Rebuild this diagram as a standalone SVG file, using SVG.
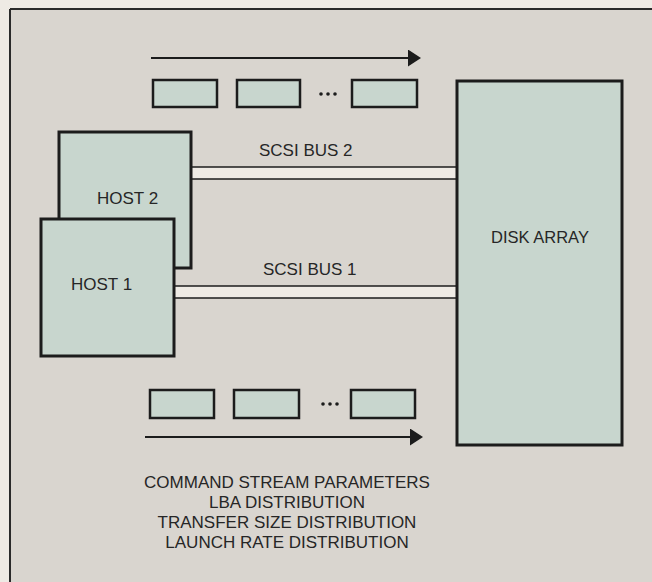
<svg xmlns="http://www.w3.org/2000/svg" width="652" height="582" viewBox="0 0 652 582">
<defs>
<style>
.box{fill:#c8d6ce;stroke:#1c1c1c;stroke-width:3}
.pkt{fill:#c8d6ce;stroke:#1c1c1c;stroke-width:2.5}
.lbl{font-family:"Liberation Sans",Arial,sans-serif;font-size:17px;fill:#262626}
.busfill{fill:#efebe5;stroke:none}
.busline{stroke:#1c1c1c;stroke-width:1.6;fill:none}
.arr{stroke:#1c1c1c;stroke-width:2;fill:none}
.dot{fill:#1c1c1c}
</style>
<marker id="ah" viewBox="0 0 13 17" refX="0" refY="8.5" markerWidth="13" markerHeight="17" markerUnits="userSpaceOnUse" orient="auto">
<polygon points="0,0 13,8.5 0,17" fill="#1c1c1c"/>
</marker>
</defs>
<rect x="0" y="0" width="652" height="582" fill="#eeeae4"/>
<rect x="10" y="9" width="642" height="573" fill="#d9d5cf"/>
<line x1="10" y1="9" x2="652" y2="9" stroke="#2a2a2a" stroke-width="2"/>
<line x1="10" y1="9" x2="10" y2="582" stroke="#2a2a2a" stroke-width="2"/>

<g id="connectors">
<rect class="busfill" x="191" y="167" width="266" height="12"/>
<line class="busline" x1="191" y1="167" x2="457" y2="167"/>
<line class="busline" x1="191" y1="179" x2="457" y2="179"/>
<rect class="busfill" x="174" y="286" width="283" height="12"/>
<line class="busline" x1="174" y1="286" x2="457" y2="286"/>
<line class="busline" x1="174" y1="298" x2="457" y2="298"/>
<text class="lbl" x="259" y="156">SCSI BUS 2</text>
<text class="lbl" x="263" y="275">SCSI BUS 1</text>
</g>

<g id="stream-top">
<line class="arr" x1="151" y1="58" x2="408" y2="58" marker-end="url(#ah)"/>
<rect class="pkt" x="153" y="80" width="64" height="27"/>
<rect class="pkt" x="237" y="80" width="63" height="27"/>
<circle class="dot" cx="321" cy="94" r="1.8"/>
<circle class="dot" cx="328" cy="94" r="1.8"/>
<circle class="dot" cx="335" cy="94" r="1.8"/>
<rect class="pkt" x="352" y="80" width="65" height="27"/>
</g>

<g id="host2">
<rect class="box" x="59" y="132" width="132" height="136"/>
<text class="lbl" x="97" y="204">HOST 2</text>
</g>

<g id="host1">
<rect class="box" x="41" y="219" width="133" height="137"/>
<text class="lbl" x="71" y="290">HOST 1</text>
</g>

<g id="disk-array">
<rect class="box" x="457" y="81" width="165" height="364"/>
<text class="lbl" x="540" y="243" text-anchor="middle" style="font-size:16.5px">DISK ARRAY</text>
</g>

<g id="stream-bottom">
<rect class="pkt" x="150" y="390" width="64" height="28"/>
<rect class="pkt" x="234" y="390" width="65" height="28"/>
<circle class="dot" cx="323" cy="404" r="1.8"/>
<circle class="dot" cx="330" cy="404" r="1.8"/>
<circle class="dot" cx="337" cy="404" r="1.8"/>
<rect class="pkt" x="351" y="390" width="64" height="28"/>
<line class="arr" x1="145" y1="437" x2="410" y2="437" marker-end="url(#ah)"/>
</g>

<g id="parameters">
<text class="lbl" x="287" y="488" text-anchor="middle">COMMAND STREAM PARAMETERS</text>
<text class="lbl" x="287" y="508" text-anchor="middle">LBA DISTRIBUTION</text>
<text class="lbl" x="287" y="528" text-anchor="middle">TRANSFER SIZE DISTRIBUTION</text>
<text class="lbl" x="287" y="548" text-anchor="middle">LAUNCH RATE DISTRIBUTION</text>
</g>
</svg>
